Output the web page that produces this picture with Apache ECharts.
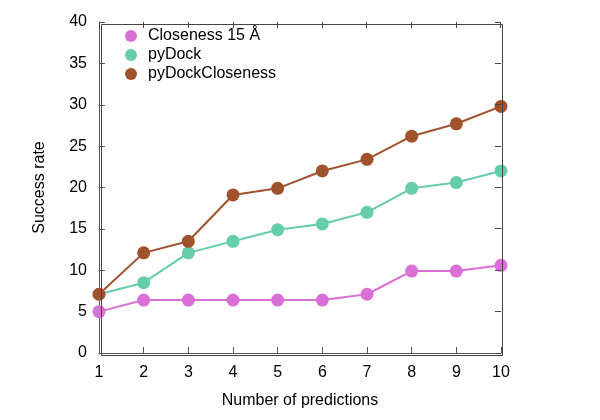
<!DOCTYPE html>
<html><head><meta charset="utf-8">
<script src="https://cdn.jsdelivr.net/npm/echarts@6/dist/echarts.min.js"></script>
<style>html,body{margin:0;padding:0;background:#fff}#c{width:600px;height:420px}</style>
</head><body><div id="c"></div>
<script>
const categories = [1,2,3,4,5,6,7,8,9,10];
const closeness15 = [5.0, 6.4, 6.4, 6.4, 6.4, 6.4, 7.1, 9.9, 9.9, 10.6];
const pyDock = [7.1, 8.5, 12.1, 13.5, 14.9, 15.6, 17.0, 19.9, 20.6, 22.0];
const pyDockCloseness = [7.1, 12.1, 13.5, 19.1, 19.9, 22.0, 23.4, 26.2, 27.7, 29.8];
const seriesNames = ['Closeness 15 Å', 'pyDock', 'pyDockCloseness'];
const yTicks = [0,5,10,15,20,25,30,35,40];

const font = 'Liberation Sans, Arial, sans-serif';
const axisCol = '#555';
const chart = echarts.init(document.getElementById('c'), null, {renderer:'canvas'});
function pairs(arr){ return arr.map((v,i)=>[categories[i], v]); }
const colors = ['#da70d6', '#66cdaa', '#a0522d'];
const datas = [closeness15, pyDock, pyDockCloseness];
const tick = () => ({show:true, inside:true, length:6, lineStyle:{color:axisCol, width:1}});
const line = () => ({show:true, onZero:false, lineStyle:{color:axisCol, width:1}});
chart.setOption({
  animation:false,
  grid:{left:99, right:99, top:22, bottom:67},
  legend:{
    orient:'vertical', left:120, top:23, itemGap:3, itemWidth:12, itemHeight:12,
    icon:'circle', textStyle:{fontFamily:font, fontSize:16, color:'#000', padding:[0,0,0,6]},
    data:seriesNames
  },
  xAxis:{
    type:'value', min:1, max:10, interval:1, position:'bottom',
    name:'Number of predictions', nameLocation:'middle', nameGap:40,
    nameTextStyle:{fontFamily:font, fontSize:16, color:'#000'},
    axisLine:line(), axisTick:tick(),
    axisLabel:{fontFamily:font, fontSize:16, color:'#000', margin:12},
    splitLine:{show:false}
  },
  yAxis:{
    type:'value', min:0, max:40, interval:5, position:'left',
    name:'Success rate', nameLocation:'middle', nameGap:51,
    nameTextStyle:{fontFamily:font, fontSize:16, color:'#000'},
    axisLine:line(), axisTick:tick(),
    axisLabel:{fontFamily:font, fontSize:16, color:'#000', margin:12, formatter:v=>yTicks.includes(v)?String(v):''},
    splitLine:{show:false}
  },
  series: datas.map((d,i)=>({
    name:seriesNames[i], type:'line', data:pairs(d),
    symbol:'circle', symbolSize:13, showSymbol:true,
    itemStyle:{color:colors[i]}, lineStyle:{color:colors[i], width:2}
  }))
});
// frame with inward ticks on top/right, located via the chart's own scales
const tl = chart.convertToPixel({gridIndex:0}, [categories[0], yTicks[yTicks.length-1]]);
const br = chart.convertToPixel({gridIndex:0}, [categories[categories.length-1], yTicks[0]]);
const xL = Math.floor(tl[0]), yT = Math.floor(tl[1]), xR = Math.floor(br[0]), yB = Math.floor(br[1]);
const els = [
  {type:'rect', left:xL, top:yT, shape:{x:0,y:0,width:xR-xL,height:yB-yT}, style:{stroke:'#444', lineWidth:1, fill:'none'}, z:100, silent:true}
];
function bar(l,t,w,h){ return {type:'rect', left:l, top:t, shape:{x:0,y:0,width:w,height:h}, style:{fill:'#444', stroke:'none'}, silent:true, z:100}; }
categories.forEach(c=>{
  const x = Math.floor(chart.convertToPixel({gridIndex:0}, [c, 0])[0]);
  els.push(bar(x, yT, 1, 6));
});
yTicks.forEach(v=>{
  const y = Math.floor(chart.convertToPixel({gridIndex:0}, [1, v])[1]);
  els.push(bar(xR-5, y, 6, 1));
});
chart.setOption({graphic:els});
</script></body></html>
